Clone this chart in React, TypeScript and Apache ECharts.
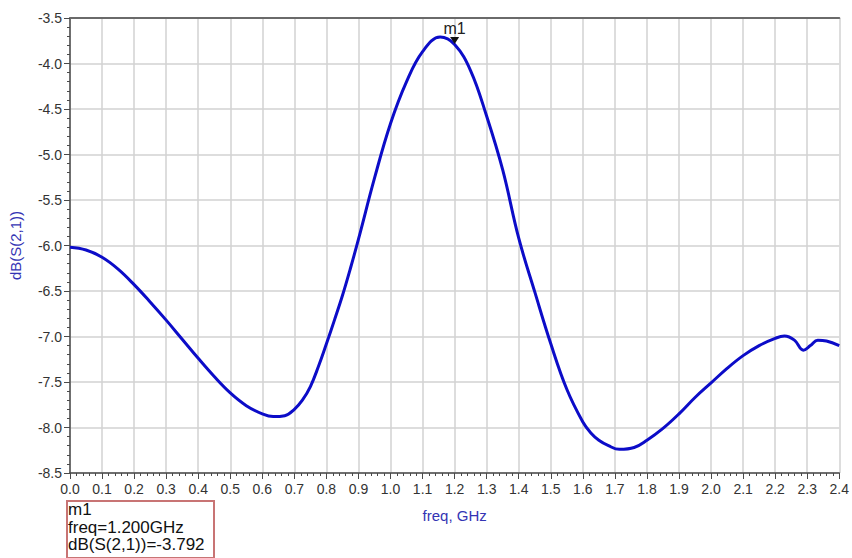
import React, { useEffect, useRef } from "react";
import * as echarts from "echarts";

// Frequency sweep (GHz) and the matching |S21| in dB
const freqGHz = [
  0.0, 0.05, 0.1, 0.15, 0.2, 0.25, 0.3, 0.35, 0.4, 0.45, 0.5, 0.55, 0.6, 0.634,
  0.67, 0.7, 0.725, 0.75, 0.775, 0.8, 0.825, 0.85, 0.875, 0.9, 0.95, 1.0, 1.05,
  1.1, 1.155, 1.2, 1.25, 1.3, 1.35, 1.4, 1.45, 1.5, 1.55, 1.6, 1.625, 1.65,
  1.68, 1.714, 1.76, 1.8, 1.85, 1.9, 1.95, 2.0, 2.05, 2.1, 2.15, 2.2, 2.229,
  2.26, 2.288, 2.31, 2.333, 2.36, 2.4,
];
const s21dB = [
  -6.02, -6.05, -6.13, -6.26, -6.43, -6.62, -6.82, -7.03, -7.24, -7.44, -7.62,
  -7.76, -7.85, -7.88, -7.87, -7.8, -7.7, -7.55, -7.33, -7.08, -6.82, -6.55,
  -6.25, -5.93, -5.26, -4.66, -4.2, -3.87, -3.71, -3.792, -4.08, -4.58, -5.17,
  -5.92, -6.51, -7.08, -7.58, -7.94, -8.06, -8.14, -8.2, -8.24, -8.22, -8.14,
  -8.01, -7.85, -7.67, -7.51, -7.35, -7.21, -7.1, -7.02, -6.995, -7.04, -7.15,
  -7.1, -7.04, -7.05, -7.1,
];

// Marker m1
const markerName = "m1";
const markerFreq = 1.2;
const markerValue = -3.792;

// Axis ranges and steps
const xMin = 0;
const xMax = 2.4;
const xStep = 0.1;
const yMin = -8.5;
const yMax = -3.5;
const yStep = 0.5;

const markerLines = [
  markerName,
  `freq=${markerFreq.toFixed(3)}GHz`,
  `dB(S(2,1))=${markerValue.toFixed(3)}`,
];

export default function App() {
  const ref = useRef<HTMLDivElement>(null);

  useEffect(() => {
    if (!ref.current) return;
    const chart = echarts.init(ref.current, null, { renderer: "svg" });
    const font = "'Liberation Sans', Arial, sans-serif";
    const axisDark = "#4a4a4a";
    const gridColor = "#d2d2d2";
    const nameColor = "#3434b4";

    chart.setOption({
      animation: false,
      backgroundColor: "#ffffff",
      grid: { left: 70, right: 12, top: 18, bottom: 85, containLabel: false },
      xAxis: [
        {
          type: "value",
          min: xMin,
          max: xMax,
          interval: xStep,
          name: "freq, GHz",
          nameLocation: "middle",
          nameGap: 35,
          nameTextStyle: { color: nameColor, fontSize: 15, fontFamily: font },
          axisLine: { show: true, lineStyle: { color: axisDark, width: 1.5 } },
          axisTick: { show: true, inside: false, length: 6, lineStyle: { color: axisDark } },
          minorTick: { show: true, splitNumber: 5, length: 3, lineStyle: { color: axisDark } },
          axisLabel: {
            color: "#333333",
            fontSize: 14,
            fontFamily: font,
            margin: 9,
            formatter: (v: number) => v.toFixed(1),
          },
          splitLine: { show: true, lineStyle: { color: gridColor, width: 1.5 } },
        },
        {
          type: "value",
          position: "top",
          min: xMin,
          max: xMax,
          interval: xStep,
          axisLine: { show: true, onZero: false, lineStyle: { color: "#6a6a6a", width: 2 } },
          axisTick: { show: false },
          axisLabel: { show: false },
          splitLine: { show: false },
        },
      ],
      yAxis: {
        type: "value",
        min: yMin,
        max: yMax,
        interval: yStep,
        name: "dB(S(2,1))",
        nameLocation: "middle",
        nameGap: 47,
        nameRotate: 90,
        nameTextStyle: { color: nameColor, fontSize: 15, fontFamily: font },
        axisLine: { show: true, lineStyle: { color: axisDark, width: 1.5 } },
        axisTick: { show: true, inside: false, length: 6, lineStyle: { color: axisDark } },
        minorTick: { show: true, splitNumber: 5, length: 3, lineStyle: { color: axisDark } },
        axisLabel: {
          color: "#333333",
          fontSize: 14,
          fontFamily: font,
          margin: 8,
          formatter: (v: number) => v.toFixed(1),
        },
        splitLine: { show: true, lineStyle: { color: gridColor, width: 1.5 } },
      },
      series: [
        {
          type: "line",
          xAxisIndex: 0,
          data: freqGHz.map((f, i) => [f, s21dB[i]]),
          smooth: 0.4,
          showSymbol: false,
          lineStyle: { color: "#0c0cc8", width: 3 },
          markPoint: {
            symbol: "triangle",
            symbolRotate: 180,
            symbolSize: [9, 7],
            symbolOffset: [0, -4],
            itemStyle: { color: "#111111" },
            label: {
              show: true,
              position: "top",
              distance: 1,
              formatter: markerName,
              color: "#222222",
              fontSize: 16,
              fontFamily: font,
            },
            data: [{ coord: [markerFreq, markerValue] }],
          },
        },
      ],
      graphic: [
        {
          type: "rect",
          left: 66,
          top: 500,
          shape: { width: 147, height: 57 },
          style: { fill: "#ffffff", stroke: "#c87474", lineWidth: 2 },
        },
        {
          type: "text",
          left: 68,
          top: 501,
          style: {
            text: markerLines.join("\n"),
            fill: "#111111",
            fontSize: 17,
            lineHeight: 17.5,
            fontFamily: font,
          },
        },
      ],
    });

    return () => chart.dispose();
  }, []);

  return (
    <div
      ref={ref}
      style={{ position: "fixed", left: 0, top: 0, width: 852, height: 558 }}
    />
  );
}
